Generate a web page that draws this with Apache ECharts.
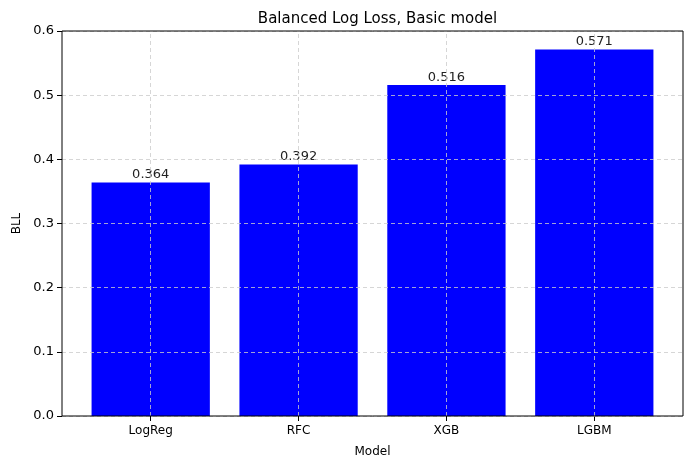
<!DOCTYPE html>
<html><head><meta charset="utf-8">
<script src="https://cdn.jsdelivr.net/npm/echarts@6/dist/echarts.min.js"></script>
<style>html,body{margin:0;padding:0;background:#fff}#c{width:693px;height:469px}</style>
</head><body><div id="c"></div>
<script>
const categories = ['LogReg', 'RFC', 'XGB', 'LGBM'];
const bllValues = [0.364, 0.392, 0.516, 0.571];
const yTicks = [0.0, 0.1, 0.2, 0.3, 0.4, 0.5, 0.6];

const FONT = '"DejaVu Sans", sans-serif';
const gridLineStyle = { color: '#cccccc', type: [4, 3], width: 0.8 };
// frame spans x in [-0.6, 3.6]; category band spans [-0.5, 3.5]
const FRAME = { left: 62, right: 10, top: 31, bottom: 53 };
const plotW = 693 - FRAME.left - FRAME.right;
const unitPx = plotW / 4.2;
const pad = 0.1 * unitPx;

const chart = echarts.init(document.getElementById('c'), null, { renderer: 'canvas' });
chart.setOption({
  animation: false,
  textStyle: { fontFamily: FONT },
  title: {
    text: 'Balanced Log Loss, Basic model', left: FRAME.left + plotW / 2, textAlign: 'center', top: 7,
    textStyle: { fontFamily: FONT, fontSize: 15, fontWeight: 'normal', color: '#000' }
  },
  grid: [
    { left: FRAME.left, right: FRAME.right, top: FRAME.top, bottom: FRAME.bottom,
      outerBoundsMode: 'none', containLabel: false, z: 6,
      show: true, borderColor: '#000', borderWidth: 1, backgroundColor: 'transparent' },
    { left: FRAME.left + pad, right: FRAME.right + pad, top: FRAME.top, bottom: FRAME.bottom,
      outerBoundsMode: 'none', containLabel: false }
  ],
  xAxis: [
    { type: 'value', gridIndex: 0, min: 0, max: 1, show: false },
    {
      type: 'category', gridIndex: 1, data: categories,
      name: 'Model', nameLocation: 'middle', nameGap: 30,
      nameTextStyle: { fontFamily: FONT, fontSize: 12, color: '#000' },
      axisLine: { show: false },
      axisTick: { show: true, alignWithLabel: true, length: 5, lineStyle: { color: '#000' } },
      axisLabel: { fontFamily: FONT, fontSize: 12, color: '#000', margin: 9 },
      splitLine: { show: false }
    }
  ],
  yAxis: [
    {
      type: 'value', gridIndex: 0, min: 0, max: 0.6, interval: 0.1, z: 5,
      name: 'BLL', nameLocation: 'middle', nameGap: 39, nameRotate: 90,
      nameTextStyle: { fontFamily: FONT, fontSize: 12, color: '#000' },
      axisLine: { show: false },
      axisTick: { show: true, length: 5, lineStyle: { color: '#000' } },
      axisLabel: { fontFamily: FONT, fontSize: 13, color: '#000', margin: 8, formatter: v => v.toFixed(1) },
      splitLine: { show: true, lineStyle: gridLineStyle }
    },
    { type: 'value', gridIndex: 1, min: 0, max: 0.6, show: false, splitLine: { show: false } }
  ],
  series: [{
    type: 'bar', xAxisIndex: 1, yAxisIndex: 1, data: bllValues, barWidth: '80%',
    itemStyle: { color: '#0000ff' },
    label: { show: true, position: 'top', distance: 1, fontFamily: FONT, fontSize: 13, color: '#222', formatter: p => p.value.toFixed(3) },
    markLine: {
      silent: true, symbol: 'none', label: { show: false },
      lineStyle: gridLineStyle,
      data: categories.map(c => ({ xAxis: c }))
    }
  }]
});
</script></body></html>
